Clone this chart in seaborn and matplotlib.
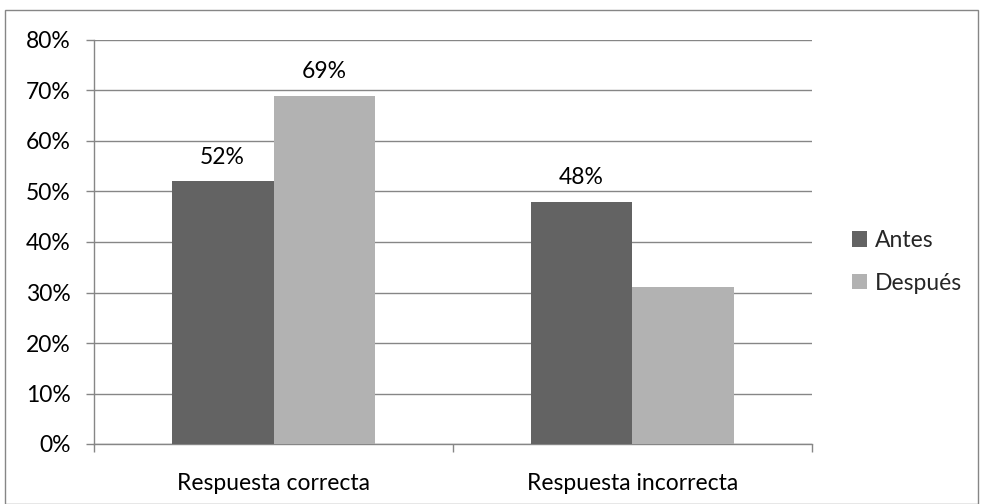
import matplotlib
matplotlib.use("Agg")
import matplotlib.pyplot as plt
from matplotlib.patches import Rectangle
from matplotlib.ticker import FixedLocator, PercentFormatter
import seaborn as sns
import pandas as pd

# Chart data
categories = ["Respuesta correcta", "Respuesta incorrecta"]
series_names = ["Antes", "Después"]
antes = [52, 48]
despues = [69, 31]
# which bars carry a value label (Antes / Después per category)
label_antes = [True, True]
label_despues = [True, False]
y_ticks = [0, 10, 20, 30, 40, 50, 60, 70, 80]

colors = {"Antes": "#636363", "Después": "#b2b2b2"}
grid_color = "#868686"
FS = 16.5

sns.set_theme(style="white")
plt.rcParams["font.family"] = ["Lato", "DejaVu Sans"]

df = pd.DataFrame({
    "categoria": categories * 2,
    "serie": [series_names[0]] * len(categories) + [series_names[1]] * len(categories),
    "valor": antes + despues,
})

W, H = 981, 504
fig = plt.figure(figsize=(W / 100, H / 100), dpi=100)
fig.patch.set_facecolor("white")

# plot area in pixel coordinates
x0, x1, ytop, ybot = 94, 812, 40, 444
ax = fig.add_axes([x0 / W, (H - ybot) / H, (x1 - x0) / W, (ybot - ytop) / H])

sns.barplot(data=df, x="categoria", y="valor", hue="serie",
            palette=colors, width=0.568, gap=0, saturation=1,
            edgecolor="none", linewidth=0, legend=False, ax=ax, zorder=3)

ax.set_ylim(0, 80)
ax.set_xlim(-0.5, len(categories) - 0.5)
ax.set_xlabel("")
ax.set_ylabel("")

ax.yaxis.set_major_locator(FixedLocator(y_ticks))
ax.yaxis.set_major_formatter(PercentFormatter(decimals=0))
ax.grid(axis="y", color=grid_color, linewidth=1.0, zorder=0)
ax.set_axisbelow(True)

for s in ["top", "right"]:
    ax.spines[s].set_visible(False)
for s in ["left", "bottom"]:
    ax.spines[s].set_color(grid_color)
    ax.spines[s].set_linewidth(1.0)

ax.tick_params(axis="y", which="major", left=True, length=6, width=1.0,
               color=grid_color, labelsize=FS, labelcolor="black", pad=11)
ax.tick_params(axis="x", which="major", bottom=False, labelsize=FS,
               labelcolor="black", pad=15)
ax.xaxis.set_minor_locator(FixedLocator([-0.5, 0.5, 1.5]))
ax.tick_params(axis="x", which="minor", bottom=True, length=6, width=1.0,
               color=grid_color)

# value labels above bars
flags = label_antes + label_despues
for patch, val, show in zip(ax.patches, antes + despues, flags):
    if show:
        ax.annotate(f"{val}%", (patch.get_x() + patch.get_width() / 2, val),
                    xytext=(0, 10), textcoords="offset points",
                    ha="center", va="bottom", fontsize=FS, color="black")

# legend on the right
handles = [Rectangle((0, 0), 1, 1, facecolor=colors[n], edgecolor="none")
           for n in series_names]
fig.legend(handles, series_names, loc="center left",
           bbox_to_anchor=(852 / W, 1 - 262 / H), frameon=False,
           fontsize=FS, handlelength=0.65, handleheight=0.65,
           handletextpad=0.35, labelspacing=0.95, borderaxespad=0,
           borderpad=0)

# chart border
fig.add_artist(Rectangle((5 / W, 0.5 / H), 973 / W, (H - 10.5) / H,
                         transform=fig.transFigure, fill=False,
                         edgecolor=grid_color, linewidth=1.0))

fig.savefig("out.png", dpi=100)
